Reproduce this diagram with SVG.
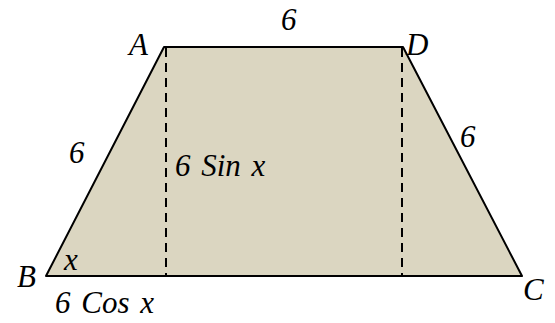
<svg xmlns="http://www.w3.org/2000/svg" width="555" height="323" viewBox="0 0 555 323">
<style>
.dash{stroke:#000;stroke-width:2;stroke-dasharray:9,6;fill:none}
</style>
<rect width="555" height="323" fill="#fff"/>
<g id="trapezoid">
<polygon points="164,47 403,47 522,276 46,276" fill="#dbd6c1" stroke="#000" stroke-width="2" stroke-linejoin="round"/>
</g>
<g id="connectors">
<line class="dash" x1="166" y1="48" x2="166" y2="276"/>
<line class="dash" x1="402" y1="48" x2="402" y2="276"/>
</g>
<g id="labels">
<text x="129" y="55" font-family="Liberation Serif, serif" font-size="31" font-style="italic">A</text>
<text x="406" y="55" font-family="Liberation Serif, serif" font-size="31" font-style="italic">D</text>
<text x="17" y="287" font-family="Liberation Serif, serif" font-size="31" font-style="italic">B</text>
<text x="523" y="300" font-family="Liberation Serif, serif" font-size="31" font-style="italic">C</text>
<text x="281" y="30" font-family="Liberation Serif, serif" font-size="31" font-style="italic">6</text>
<text x="69" y="163" font-family="Liberation Serif, serif" font-size="31" font-style="italic">6</text>
<text x="460" y="147" font-family="Liberation Serif, serif" font-size="31" font-style="italic">6</text>
<text x="175" y="176" font-family="Liberation Serif, serif" font-size="31" font-style="italic" word-spacing="3">6 Sin x</text>
<text x="64" y="270" font-family="Liberation Serif, serif" font-size="31" font-style="italic">x</text>
<text x="55" y="313" font-family="Liberation Serif, serif" font-size="31" font-style="italic" word-spacing="3">6 Cos x</text>
</g>
</svg>
